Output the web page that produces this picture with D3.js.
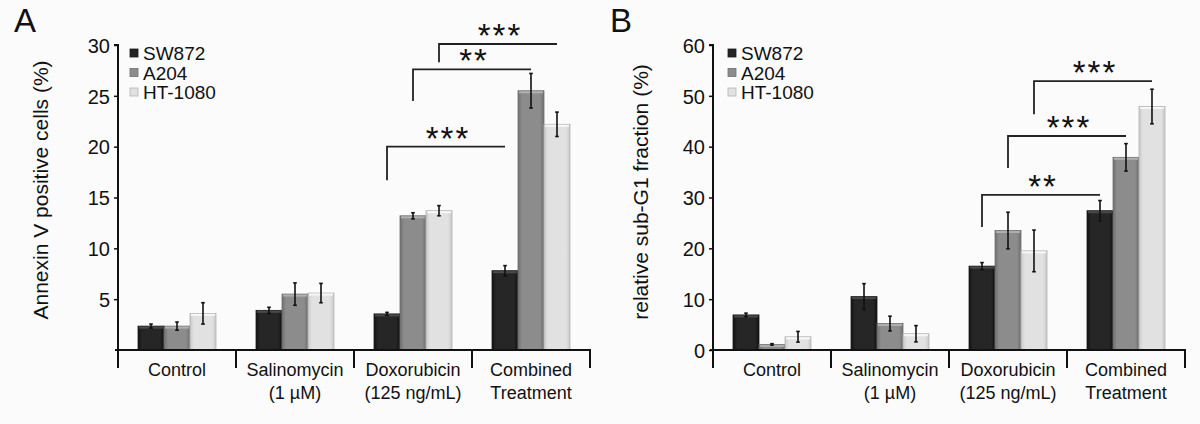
<!DOCTYPE html>
<html>
<head>
<meta charset="utf-8">
<script src="https://cdn.jsdelivr.net/npm/d3@7"></script>
<style>
  html, body { margin: 0; padding: 0; background: #fbfbfb; }
  svg { display: block; font-family: "Liberation Sans", Arial, sans-serif; }
</style>
</head>
<body>
<svg id="chart" width="1200" height="424"></svg>
<script>
// ---------- data ----------
const categories = ["Control", "Salinomycin", "Doxorubicin", "Combined"];
const categoryLines = [["Control"], ["Salinomycin", "(1 µM)"], ["Doxorubicin", "(125 ng/mL)"], ["Combined", "Treatment"]];
const seriesNames = ["SW872", "A204", "HT-1080"];

// Panel A: Annexin V positive cells (%)
const annexinSW872 = [2.35, 3.9, 3.55, 7.8];
const annexinA204 = [2.35, 5.5, 13.2, 25.5];
const annexinHT1080 = [3.6, 5.6, 13.7, 22.2];
const annexinErrSW872 = [0.2, 0.3, 0.15, 0.5];
const annexinErrA204 = [0.4, 1.1, 0.3, 1.7];
const annexinErrHT1080 = [1.05, 0.95, 0.5, 1.2];
const annexinTicks = [5, 10, 15, 20, 25, 30];
const annexinSigLabels = ["***", "**", "***"];
const annexinSigSeries = [0, 1, 2];
const annexinSigBarY = [20, 27.6, 30.1];
const annexinSigLegY = [16.7, 24.5, 28.3];

// Panel B: relative sub-G1 fraction (%)
const subG1SW872 = [6.9, 10.5, 16.5, 27.4];
const subG1A204 = [1.1, 5.2, 23.5, 37.9];
const subG1HT1080 = [2.6, 3.2, 19.5, 47.9];
const subG1ErrSW872 = [0.35, 2.55, 0.7, 2.0];
const subG1ErrA204 = [0.15, 1.45, 3.6, 2.7];
const subG1ErrHT1080 = [1.05, 1.6, 4.1, 3.4];
const subG1Ticks = [0, 10, 20, 30, 40, 50, 60];
const subG1SigLabels = ["**", "***", "***"];
const subG1SigSeries = [0, 1, 2];
const subG1SigBarY = [30.5, 42.1, 52.9];
const subG1SigLegY = [24.2, 35.8, 46.4];

// ---------- styling ----------
const barColors = [
  { base: "#262626", edge: "#111111", top: "#4a4a4a", stroke: "#1a1a1a" },
  { base: "#8c8c8c", edge: "#6e6e6e", top: "#b0b0b0", stroke: "#707070" },
  { base: "#e1e1e1", edge: "#c8c8c8", top: "#f7f7f7", stroke: "#b4b4b4" }
];

const svg = d3.select("#chart");
const defs = svg.append("defs");
barColors.forEach((c, i) => {
  const g = defs.append("linearGradient").attr("id", "grad" + i)
    .attr("x1", "0%").attr("x2", "100%").attr("y1", "0%").attr("y2", "0%");
  g.append("stop").attr("offset", "0%").attr("stop-color", c.edge);
  g.append("stop").attr("offset", "15%").attr("stop-color", c.base);
  g.append("stop").attr("offset", "85%").attr("stop-color", c.base);
  g.append("stop").attr("offset", "100%").attr("stop-color", c.edge);
});

function drawPanel(opt) {
  const g = svg.append("g");
  const x = d3.scaleBand().domain(categories).range([opt.x0, opt.x1]).paddingInner(0).paddingOuter(0);
  const xs = d3.scaleBand().domain(d3.range(seriesNames.length)).range([0, x.bandwidth()]).paddingInner(0).paddingOuter(0.77);
  const y = d3.scaleLinear().domain(opt.domain).range([350, 45]);

  // panel letter
  g.append("text").attr("x", opt.letterX).attr("y", 32).attr("font-size", 33).attr("fill", "#111").text(opt.letter);

  // legend
  const lg = g.append("g");
  seriesNames.forEach((s, i) => {
    const cy = 53 + i * 19.5;
    lg.append("rect").attr("x", opt.legendX).attr("y", cy - 4).attr("width", 8).attr("height", 8)
      .attr("fill", barColors[i].base).attr("stroke", barColors[i].stroke).attr("stroke-width", 0.8);
    lg.append("text").attr("x", opt.legendX + 13).attr("y", cy + 7).attr("font-size", 19).attr("fill", "#111").text(s);
  });

  // bars
  opt.values.forEach((vals, si) => {
    const errs = opt.errors[si];
    categories.forEach((cat, ci) => {
      const bx = x(cat) + xs(si);
      const bw = xs.bandwidth();
      const v = vals[ci];
      g.append("rect").attr("x", bx).attr("y", y(v)).attr("width", bw).attr("height", y(0) - y(v))
        .attr("fill", "url(#grad" + si + ")").attr("stroke", barColors[si].stroke).attr("stroke-width", 0.8);
      g.append("line").attr("x1", bx + 1).attr("x2", bx + bw - 1).attr("y1", y(v) + 1.5).attr("y2", y(v) + 1.5)
        .attr("stroke", barColors[si].top).attr("stroke-width", 2);
      // error bar
      const cx = bx + bw / 2;
      const e = errs[ci];
      g.append("line").attr("x1", cx).attr("x2", cx).attr("y1", y(v - e)).attr("y2", y(v + e))
        .attr("stroke", "#111").attr("stroke-width", 1.6);
      [v - e, v + e].forEach(ev => {
        g.append("line").attr("x1", cx - 1.8).attr("x2", cx + 1.8).attr("y1", y(ev)).attr("y2", y(ev))
          .attr("stroke", "#111").attr("stroke-width", 1.6);
      });
    });
  });

  // y axis
  const yAxis = d3.axisLeft(y).tickValues(opt.ticks).tickSize(4).tickPadding(4).tickFormat(d3.format("d"));
  const ya = g.append("g").attr("transform", `translate(${opt.x0},0)`).call(yAxis);
  ya.select(".domain").attr("stroke", "#111").attr("stroke-width", 2).attr("d", `M-4,${y(opt.domain[1])}H0V${y(0)}`);
  ya.selectAll(".tick line").attr("stroke", "#111").attr("stroke-width", 1.5);
  ya.selectAll(".tick text").attr("font-size", 20).attr("fill", "#111").attr("font-family", "Liberation Sans, Arial, sans-serif").attr("dy", "0.36em");

  // x axis baseline and category dividers
  g.append("line").attr("x1", opt.x0 - 3).attr("x2", opt.x1 + 1).attr("y1", y(0)).attr("y2", y(0))
    .attr("stroke", "#111").attr("stroke-width", 2);
  const dividers = categories.map(c => x(c)).concat([opt.x1]);
  dividers.forEach(dx => {
    g.append("line").attr("x1", dx).attr("x2", dx).attr("y1", y(0)).attr("y2", y(0) + 18)
      .attr("stroke", "#111").attr("stroke-width", 2);
  });
  categories.forEach((c, ci) => {
    categoryLines[ci].forEach((ln, li) => {
      g.append("text").attr("x", x(c) + x.bandwidth() / 2).attr("y", 376 + li * 23)
        .attr("text-anchor", "middle").attr("font-size", 18).attr("fill", "#111").text(ln);
    });
  });

  // y axis title
  g.append("text").attr("transform", `translate(${opt.titleX},${opt.titleY}) rotate(-90)`)
    .attr("text-anchor", "middle").attr("font-size", 21).attr("fill", "#111").text(opt.title);

  // significance brackets (Doxorubicin -> Combined, same series)
  opt.sigLabels.forEach((lab, k) => {
    const si = opt.sigSeries[k];
    const xa = x(categories[2]) + xs(si) + xs.bandwidth() / 2;
    const xb = x(categories[3]) + xs(si) + xs.bandwidth() / 2;
    const yb = y(opt.sigBarY[k]);
    g.append("path").attr("d", `M${xa},${y(opt.sigLegY[k])}V${yb}H${xb}`)
      .attr("fill", "none").attr("stroke", "#222").attr("stroke-width", 1.8);
    g.append("text").attr("x", (xa + xb) / 2 + 2).attr("y", yb + 3)
      .attr("text-anchor", "middle").attr("font-size", 33).attr("letter-spacing", 2)
      .attr("fill", "#111").text(lab);
  });
}

drawPanel({
  letter: "A", letterX: 14, x0: 118, x1: 590, domain: [0, 30], ticks: annexinTicks,
  values: [annexinSW872, annexinA204, annexinHT1080],
  errors: [annexinErrSW872, annexinErrA204, annexinErrHT1080],
  legendX: 130, title: "Annexin V positive cells (%)", titleX: 48, titleY: 190,
  sigLabels: annexinSigLabels, sigSeries: annexinSigSeries, sigBarY: annexinSigBarY, sigLegY: annexinSigLegY
});
drawPanel({
  letter: "B", letterX: 610, x0: 713, x1: 1185, domain: [0, 60], ticks: subG1Ticks,
  values: [subG1SW872, subG1A204, subG1HT1080],
  errors: [subG1ErrSW872, subG1ErrA204, subG1ErrHT1080],
  legendX: 728, title: "relative sub-G1 fraction (%)", titleX: 648, titleY: 192,
  sigLabels: subG1SigLabels, sigSeries: subG1SigSeries, sigBarY: subG1SigBarY, sigLegY: subG1SigLegY
});
</script>
</body>
</html>
